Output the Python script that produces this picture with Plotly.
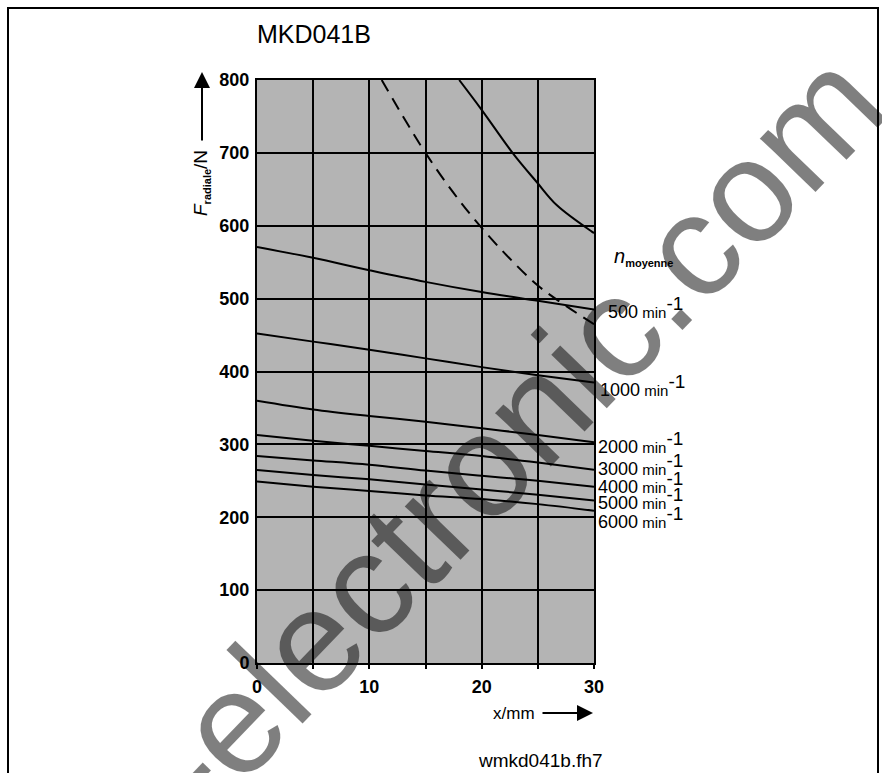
import plotly.graph_objects as go

# ---------------- data ----------------
x_mm = [0, 5, 10, 15, 20, 25, 30]
speed_labels = ["500", "1000", "2000", "3000", "4000", "5000", "6000"]
f_500 = [571, 556, 539, 523, 509, 497, 485]
f_1000 = [452, 441, 430, 418, 406, 395, 385]
f_2000 = [360, 348, 339, 331, 322, 313, 303]
f_3000 = [313, 305, 298, 291, 284, 275, 265]
f_4000 = [284, 278, 272, 264, 257, 250, 242]
f_5000 = [265, 258, 252, 245, 238, 231, 223]
f_6000 = [249, 242, 236, 230, 225, 218, 209]
speed_series = [f_500, f_1000, f_2000, f_3000, f_4000, f_5000, f_6000]
label_y = [488, 381, 302, 272, 248, 226, 199]
label_dx = [12, 4, 2, 2, 2, 2, 2]

limit_x = [18.0, 20.0, 22.8, 24.9, 26.7, 29.8, 30]
limit_f = [800, 759, 699, 660, 628, 592, 590]
dash_x = [11.1, 13, 15, 17.5, 20, 22.5, 25, 27.5, 30]
dash_f = [800, 750, 700, 645, 597, 555, 518, 490, 465]

x_ticks = [0, 10, 20, 30]
y_ticks = [0, 100, 200, 300, 400, 500, 600, 700, 800]

FONT = "Liberation Sans"
W, H = 882, 773
L, R, T, B = 257, 288, 80, 110
pw, ph = W - L - R, H - T - B


def px(xp):
    return (xp - L) / pw


def py(yp):
    return (H - B - yp) / ph


fig = go.Figure()
for ys in speed_series:
    fig.add_trace(go.Scatter(x=x_mm, y=ys, mode="lines", line=dict(color="black", width=2, shape="spline"),
                             showlegend=False, hoverinfo="skip"))
fig.add_trace(go.Scatter(x=limit_x, y=limit_f, mode="lines",
                         line=dict(color="black", width=2, shape="spline", smoothing=1.0),
                         showlegend=False, hoverinfo="skip"))
fig.add_trace(go.Scatter(x=dash_x, y=dash_f, mode="lines",
                         line=dict(color="black", width=2, shape="spline", dash="13px,8px"),
                         showlegend=False, hoverinfo="skip"))

ann = []
# watermark (drawn first so labels sit on top)
ann.append(dict(x=px(484), y=py(462), xref="paper", yref="paper", xanchor="center", yanchor="middle",
                showarrow=False, textangle=-46, text="e-electronic.com",
                font=dict(family=FONT, size=146, color="rgba(0,0,0,0.5)")))
for lab, yv, dx in zip(speed_labels, label_y, label_dx):
    ann.append(dict(x=30, y=yv, xref="x", yref="y", xanchor="left", yanchor="middle", xshift=dx,
                    showarrow=False,
                    text=(f"{lab}<span style='font-size:15px'> min</span>"
                          f"<sup><span style='font-size:19px'>-1</span></sup>"),
                    font=dict(family=FONT, size=18, color="black")))
ann.append(dict(x=px(612), y=py(257), xref="paper", yref="paper", xanchor="left", yanchor="middle",
                showarrow=False, text="<i>n</i><sub><span style='font-size:11px'><b>moyenne</b></span></sub>",
                font=dict(family=FONT, size=20, color="black")))
ann.append(dict(x=px(255), y=py(34), xref="paper", yref="paper", xanchor="left", yanchor="middle",
                showarrow=False, text="MKD041B", font=dict(family=FONT, size=25, color="black")))
ann.append(dict(x=px(201), y=py(183), xref="paper", yref="paper", xanchor="center", yanchor="middle",
                textangle=-90, showarrow=False,
                text="<i>F</i><sub><span style='font-size:11px'><b>radiale</b></span></sub>/N",
                font=dict(family=FONT, size=19, color="black")))
ann.append(dict(x=px(202), y=py(72), xref="paper", yref="paper", ax=0, ay=70, text="",
                showarrow=True, arrowhead=2, arrowsize=1.6, arrowwidth=2, arrowcolor="black"))
ann.append(dict(x=px(514), y=py(713), xref="paper", yref="paper", xanchor="center", yanchor="middle",
                showarrow=False, text="x/mm", font=dict(family=FONT, size=17, color="black")))
ann.append(dict(x=px(593), y=py(713), xref="paper", yref="paper", ax=-52, ay=0, text="",
                showarrow=True, arrowhead=2, arrowsize=1.6, arrowwidth=2, arrowcolor="black"))
ann.append(dict(x=px(540), y=py(760), xref="paper", yref="paper", xanchor="center", yanchor="middle",
                showarrow=False, text="wmkd041b.fh7", font=dict(family=FONT, size=19, color="black")))

fig.update_layout(
    width=W, height=H,
    margin=dict(l=L, r=R, t=T, b=B, pad=0),
    paper_bgcolor="white", plot_bgcolor="#b4b4b4",
    showlegend=False,
    annotations=ann,
    shapes=[dict(type="rect", xref="paper", yref="paper", x0=px(8), x1=px(878), y0=py(790), y1=py(8),
                 line=dict(color="black", width=2), fillcolor="rgba(0,0,0,0)", layer="above")],
)
fig.update_xaxes(range=[0, 30], tickvals=x_ticks, showgrid=True, gridcolor="black", gridwidth=2,
                 minor=dict(dtick=5, showgrid=True, gridcolor="black", gridwidth=2, ticks="outside",
                            ticklen=4, tickcolor="black", tickwidth=2),
                 showline=True, mirror=True, linecolor="black", linewidth=2, zeroline=False,
                 ticks="", ticklabelstandoff=6,
                 tickfont=dict(family=FONT, size=18, color="black", weight="bold"))
fig.update_yaxes(range=[0, 800], tickvals=y_ticks, showgrid=True, gridcolor="black", gridwidth=2,
                 showline=True, mirror=True, linecolor="black", linewidth=2, zeroline=False,
                 ticks="", ticklabelstandoff=2,
                 tickfont=dict(family=FONT, size=18, color="black", weight="bold"))

fig.write_html("out.html", config={"displayModeBar": False},
               post_script="document.body.style.margin='0';")
